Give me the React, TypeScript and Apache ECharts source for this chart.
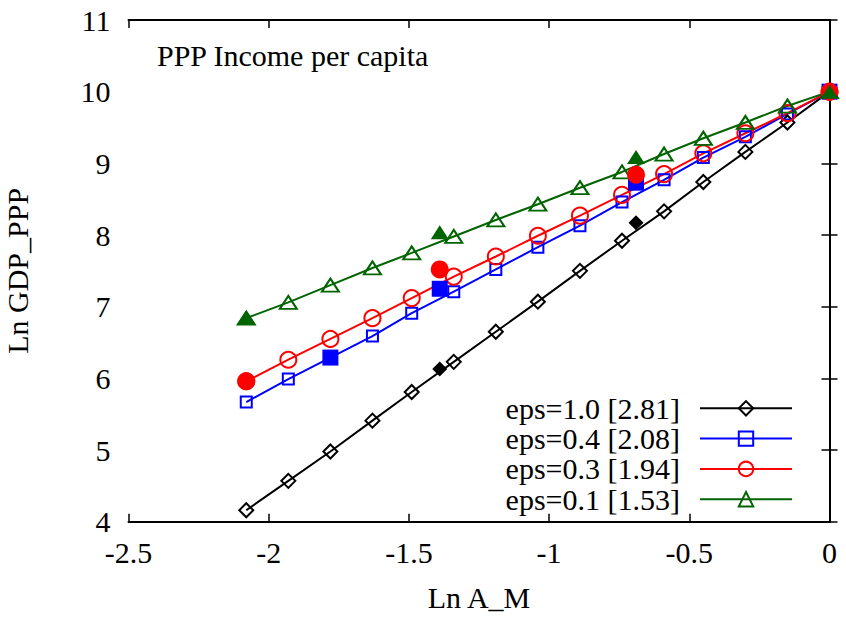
import React, { useEffect, useRef } from "react";
import * as echarts from "echarts";

const xValues = [-2.08, -1.93, -1.78, -1.63, -1.49, -1.34, -1.19, -1.04, -0.89, -0.74, -0.59, -0.45, -0.3, -0.15, 0];
const eps10 = [4.16, 4.57, 4.98, 5.41, 5.81, 6.23, 6.65, 7.07, 7.5, 7.92, 8.33, 8.74, 9.16, 9.57, 10.0];
const eps04 = [5.67, 5.99, 6.29, 6.59, 6.91, 7.21, 7.52, 7.83, 8.13, 8.46, 8.77, 9.08, 9.37, 9.69, 10.0];
const eps03 = [5.96, 6.26, 6.55, 6.84, 7.12, 7.42, 7.7, 7.99, 8.27, 8.56, 8.85, 9.14, 9.42, 9.7, 10.0];
const eps01 = [6.84, 7.06, 7.3, 7.54, 7.75, 7.98, 8.21, 8.43, 8.66, 8.88, 9.13, 9.35, 9.57, 9.8, 10.0];

const filledX10 = [-1.39, -0.69];
const filled10 = [6.13, 8.17];
const filledX04 = [-1.78, -1.39, -0.69, 0];
const filled04 = [6.29, 7.25, 8.73, 10.0];
const filledX03 = [-2.08, -1.39, -0.69, 0];
const filled03 = [5.96, 7.52, 8.84, 10.0];
const filledX01 = [-2.08, -1.39, -0.69, 0];
const filled01 = [6.85, 8.04, 9.09, 10.0];

const seriesNames = ["eps=1.0 [2.81]", "eps=0.4 [2.08]", "eps=0.3 [1.94]", "eps=0.1 [1.53]"];
const xTicks = { min: -2.5, max: 0, interval: 0.5 };
const yTicks = { min: 4, max: 11, interval: 1 };

const FONT = "'Liberation Serif', 'DejaVu Serif', serif";
const FS = 30;

function pairs(xs: number[], ys: number[]) {
  return xs.map((x, i) => [x, ys[i]]);
}

export default function App() {
  const ref = useRef<HTMLDivElement>(null);
  useEffect(() => {
    if (!ref.current) return;
    const chart = echarts.init(ref.current, undefined, { renderer: "svg" });
    const lineSeries = (name: string, ys: number[], color: string, symbol: string, size: any) => ({
      name,
      type: "line",
      z: 2,
      data: pairs(xValues, ys),
      symbol,
      symbolSize: size,
      showAllSymbol: true,
      color,
      lineStyle: { color, width: 2 },
      itemStyle: { color: "rgba(255,255,255,0)", borderColor: color, borderWidth: 2 },
      emphasis: { disabled: true },
    });
    const filledSeries = (xs: number[], ys: number[], color: string, symbol: string, size: any) => ({
      name: "_filled_" + color,
      type: "scatter",
      z: 3,
      data: pairs(xs, ys),
      symbol,
      symbolSize: size,
      itemStyle: { color, opacity: 1 },
      emphasis: { disabled: true },
    });
    const axisCommon = {
      axisLine: { show: true, lineStyle: { color: "#000", width: 2 } },
      axisTick: { show: true, inside: true, length: 8, lineStyle: { color: "#000", width: 1.5 } },
      splitLine: { show: false },
    };
    chart.setOption({
      animation: false,
      backgroundColor: "#fff",
      title: {
        text: "PPP Income per capita",
        left: 157,
        top: 40,
        padding: 0,
        textStyle: { fontFamily: FONT, fontSize: FS, fontWeight: "normal", color: "#000" },
      },
      grid: {
        left: 128.5,
        right: 16.5,
        top: 20,
        bottom: 96.3,
        containLabel: false,
        outerBoundsMode: "none",
      },
      legend: {
        data: seriesNames,
        orient: "vertical",
        right: 53,
        top: 393.3,
        align: "right",
        padding: 0,
        itemWidth: 92,
        itemHeight: 18,
        itemGap: 0.3,
        selectedMode: false,
        textStyle: { fontFamily: FONT, fontSize: FS, color: "#000", padding: [0, 15, 0, 0] },
      },
      xAxis: [
        {
          type: "value",
          position: "bottom",
          ...xTicks,
          ...axisCommon,
          axisLabel: { fontFamily: FONT, fontSize: FS, color: "#000", margin: 16 },
          name: "Ln A_M",
          nameLocation: "middle",
          nameGap: 61,
          nameTextStyle: { fontFamily: FONT, fontSize: FS, color: "#000" },
        },
        {
          type: "value",
          position: "top",
          ...xTicks,
          ...axisCommon,
          axisLabel: { show: false },
        },
      ],
      yAxis: [
        {
          type: "value",
          position: "left",
          ...yTicks,
          ...axisCommon,
          axisLabel: { fontFamily: FONT, fontSize: FS, color: "#000", margin: 18 },
          name: "Ln GDP_PPP",
          nameLocation: "middle",
          nameGap: 96,
          nameTextStyle: { fontFamily: FONT, fontSize: FS, color: "#000" },
        },
        {
          type: "value",
          position: "right",
          ...yTicks,
          ...axisCommon,
          axisLabel: { show: false },
        },
      ],
      series: [
        lineSeries(seriesNames[0], eps10, "#000000", "diamond", 14),
        filledSeries(filledX10, filled10, "#000000", "diamond", 15),
        lineSeries(seriesNames[1], eps04, "#0000ff", "rect", 11),
        filledSeries(filledX04, filled04, "#0000ff", "rect", 16),
        lineSeries(seriesNames[2], eps03, "#ff0000", "circle", 16),
        filledSeries(filledX03, filled03, "#ff0000", "circle", 18),
        lineSeries(seriesNames[3], eps01, "#006400", "triangle", [17, 13]),
        filledSeries(filledX01, filled01, "#006400", "triangle", [18, 14]),
      ],
    });
    return () => chart.dispose();
  }, []);
  return (
    <div
      ref={ref}
      style={{ position: "absolute", left: 0, top: 0, width: 846, height: 618, background: "#fff" }}
    />
  );
}
